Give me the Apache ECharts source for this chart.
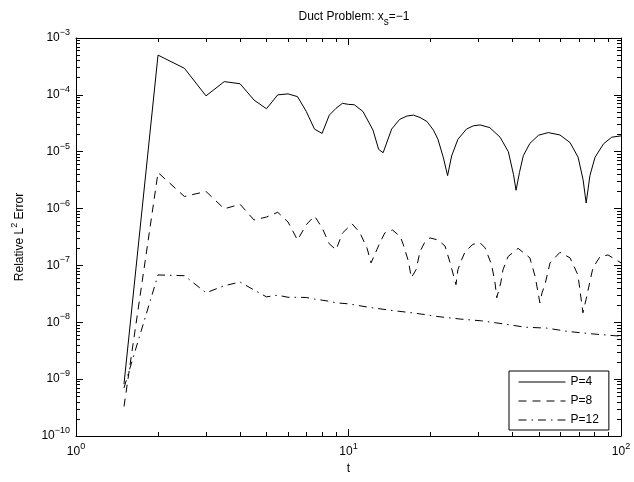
<!DOCTYPE html>
<html>
<head>
<meta charset="utf-8">
<script src="https://cdn.jsdelivr.net/npm/echarts@6/dist/echarts.min.js"></script>
<style>
html, body { margin: 0; padding: 0; background: #fff; }
#chart { width: 634px; height: 482px; }
</style>
</head>
<body>
<div id="chart"></div>
<script>
// values, [t, relative error]
var seriesNames = ['P=4', 'P=8', 'P=12'];

var p4 = [
    [1.5, 8.2e-10], [2, 5.0e-4], [2.5, 2.93e-4], [3, 9.6e-5], [3.5, 1.71e-4], [4, 1.57e-4],
    [4.5, 8.1e-5], [5, 5.7e-5], [5.5, 1.0e-4], [6, 1.04e-4], [6.5, 9.3e-5], [7, 5.1e-5],
    [7.5, 2.5e-5], [8, 2.1e-5], [8.5, 4.4e-5], [9, 5.8e-5], [9.5, 7.1e-5], [10, 6.8e-5],
    [10.5, 6.7e-5], [11.3, 5.1e-5], [12.3, 2.4e-5], [12.9, 1.1e-5], [13.4, 9.6e-6],
    [14.4, 2.5e-5], [15.4, 3.7e-5], [16.4, 4.25e-5], [17.3, 4.4e-5], [18.3, 4.0e-5],
    [19.4, 3.4e-5], [20.5, 2.4e-5], [21.3, 1.65e-5], [22.3, 7.8e-6], [23.1, 3.8e-6],
    [23.9, 8.4e-6], [25.2, 1.65e-5], [27.1, 2.5e-5], [28.7, 2.85e-5], [30.4, 2.96e-5],
    [33, 2.65e-5], [36, 1.8e-5], [38.6, 1.0e-5], [40.3, 4.0e-6], [41.2, 2.1e-6],
    [42.4, 4.3e-6], [43.8, 8.5e-6], [46.3, 1.4e-5], [49.8, 1.95e-5], [54.1, 2.17e-5],
    [59.7, 1.97e-5], [65, 1.45e-5], [69.6, 8e-6], [72.6, 3.2e-6], [74.5, 1.25e-6],
    [76.9, 3.8e-6], [80.3, 8e-6], [86.3, 1.38e-5], [92.5, 1.8e-5], [100, 1.9e-5]
];

var p8 = [
    [1.5, 3.3e-10], [2, 4.3e-6], [2.5, 1.63e-6], [3, 2.0e-6], [3.5, 9.9e-7], [4, 1.19e-6],
    [4.5, 6.3e-7], [5, 7.1e-7], [5.5, 8.6e-7], [6, 5.8e-7], [6.5, 2.8e-7], [7, 5.2e-7],
    [7.5, 7.4e-7], [8, 4.6e-7], [8.5, 2.4e-7], [9, 1.88e-7], [9.5, 3.7e-7], [10.3, 5.4e-7],
    [11, 3.8e-7], [11.7, 2.0e-7], [12.1, 1.11e-7], [12.7, 1.88e-7], [13.1, 2.63e-7],
    [13.6, 3.74e-7], [14.5, 4.2e-7], [15.5, 3.2e-7], [15.9, 2.3e-7], [16.6, 1.17e-7],
    [17, 6.1e-8], [17.7, 8.4e-8], [18.3, 1.75e-7], [19.1, 2.63e-7], [19.9, 3.05e-7],
    [21.3, 2.8e-7], [22.6, 2.2e-7], [23.6, 1.11e-7], [24.8, 4.6e-8], [25.2, 8.4e-8],
    [26, 1.25e-7], [26.8, 1.75e-7], [28.6, 2.35e-7], [30.4, 2.5e-7], [31.7, 2.04e-7],
    [33.5, 1.03e-7], [34.5, 4.9e-8], [35, 2.7e-8], [36.2, 4.9e-8], [36.9, 8.4e-8],
    [38.5, 1.43e-7], [41.9, 2.0e-7], [46.3, 1.36e-7], [48.4, 6.4e-8], [50.4, 2.2e-8],
    [51.3, 3.3e-8], [52.6, 4.6e-8], [54.9, 1.11e-7], [59.7, 1.7e-7], [65, 1.36e-7],
    [69.5, 6.8e-8], [72.5, 1.47e-8], [74.4, 2.5e-8], [76.9, 5.2e-8], [78.9, 9.1e-8],
    [83.7, 1.42e-7], [89.6, 1.53e-7], [100, 1.11e-7]
];

var p12 = [
    [1.5, 7e-10], [2, 6.8e-8], [2.5, 6.6e-8], [3, 3.3e-8], [3.5, 4.4e-8], [4, 5.1e-8],
    [4.5, 3.7e-8], [5, 2.8e-8], [5.5, 3.0e-8], [6, 2.75e-8], [6.5, 2.75e-8], [7, 2.73e-8],
    [7.5, 2.56e-8], [8, 2.45e-8], [8.5, 2.34e-8], [9, 2.2e-8], [10, 2.11e-8], [12, 1.82e-8],
    [14.5, 1.61e-8], [17.5, 1.45e-8], [21.3, 1.26e-8], [25.7, 1.14e-8], [30.8, 1.06e-8],
    [36.9, 9.4e-9], [44.4, 8.2e-9], [53.4, 7.9e-9], [63.9, 6.9e-9], [76.9, 6.3e-9],
    [95, 5.8e-9], [100, 5.7e-9]
];

var xDecades = [1, 10];
var yDecades = [1e-10, 1e-9, 1e-8, 1e-7, 1e-6, 1e-5, 1e-4];
var minorSteps = [2, 3, 4, 5, 6, 7, 8, 9];

function minorTicks(decades) {
    var out = [];
    decades.forEach(function (d) {
        minorSteps.forEach(function (s) { out.push(d * s); });
    });
    return out;
}

var font = 'Liberation Sans, Arial, Helvetica, sans-serif';

var powRich = {
    b: { fontSize: 12, fontFamily: font, color: '#000', lineHeight: 20 },
    s: { fontSize: 9, fontFamily: font, color: '#000', lineHeight: 10, verticalAlign: 'top' }
};

function powLabel(v) {
    var e = Math.round(Math.log10(v));
    return '{b|10}{s|' + String(e).replace('-', '\u2212') + '}';
}

// minor: list of extra tick values -> helper axis that only draws short ticks
function logAxis(pos, min, max, minor, extra) {
    var ax = {
        type: 'log',
        min: min,
        max: max,
        position: pos,
        axisLine: { show: !minor, onZero: false, lineStyle: { color: '#000', width: 1 } },
        axisTick: { show: true, inside: true, length: minor ? 4 : 7, lineStyle: { color: '#000', width: 1 } },
        axisLabel: { show: false },
        splitLine: { show: false }
    };
    if (minor) {
        ax.axisTick.customValues = minor;
        ax.axisLabel.customValues = minor;
    }
    return Object.assign(ax, extra || {});
}

var chart = echarts.init(document.getElementById('chart'), null, { renderer: 'canvas' });

chart.setOption({
    animation: false,
    backgroundColor: '#fff',
    title: {
        text: 'Duct Problem: x{sub|s}=\u22121',
        left: 349,
        top: 2,
        textAlign: 'center',
        textStyle: {
            fontSize: 12, fontWeight: 'normal', fontFamily: font, color: '#000', lineHeight: 20,
            rich: {
                sub: { fontSize: 10, fontFamily: font, color: '#000', verticalAlign: 'bottom', lineHeight: 9 }
            }
        }
    },
    grid: { left: 76, right: 13, top: 38, bottom: 46 },
    legend: {
        orient: 'vertical',
        left: 509,
        top: 371,
        data: seriesNames,
        itemWidth: 47,
        itemHeight: 12,
        itemGap: 7,
        padding: [5, 10, 4, 9],
        borderColor: '#000',
        borderWidth: 1,
        backgroundColor: '#fff',
        itemStyle: { opacity: 0 },
        lineStyle: { width: 1 },
        textStyle: { fontSize: 12, fontFamily: font, color: '#000' }
    },
    xAxis: [
        logAxis('bottom', 1, 100, null, {
            name: 't',
            nameLocation: 'middle',
            nameGap: 26,
            nameTextStyle: { fontSize: 12, fontFamily: font, color: '#000' },
            axisLabel: { show: true, margin: 6, formatter: powLabel, rich: powRich }
        }),
        logAxis('bottom', 1, 100, minorTicks(xDecades)),
        logAxis('top', 1, 100),
        logAxis('top', 1, 100, minorTicks(xDecades))
    ],
    yAxis: [
        logAxis('left', 1e-10, 1e-3, null, {
            name: 'Relative L{sup|2} Error',
            nameLocation: 'middle',
            nameGap: 46,
            nameTextStyle: {
                fontSize: 12, fontFamily: font, color: '#000', lineHeight: 20,
                rich: { sup: { fontSize: 9, fontFamily: font, color: '#000', verticalAlign: 'top', lineHeight: 10 } }
            },
            axisLabel: { show: true, margin: 6, formatter: powLabel, rich: powRich }
        }),
        logAxis('left', 1e-10, 1e-3, minorTicks(yDecades)),
        logAxis('right', 1e-10, 1e-3),
        logAxis('right', 1e-10, 1e-3, minorTicks(yDecades))
    ],
    series: [
        { name: seriesNames[0], data: p4, dash: 'solid' },
        { name: seriesNames[1], data: p8, dash: [8, 6] },
        { name: seriesNames[2], data: p12, dash: [8, 5, 1.5, 5] }
    ].map(function (s) {
        return {
            name: s.name,
            type: 'line',
            xAxisIndex: 0,
            yAxisIndex: 0,
            data: s.data,
            symbol: 'none',
            showSymbol: false,
            color: '#000',
            lineStyle: { color: '#000', width: 1, type: s.dash },
            itemStyle: { color: '#000' }
        };
    })
});
</script>
</body>
</html>
